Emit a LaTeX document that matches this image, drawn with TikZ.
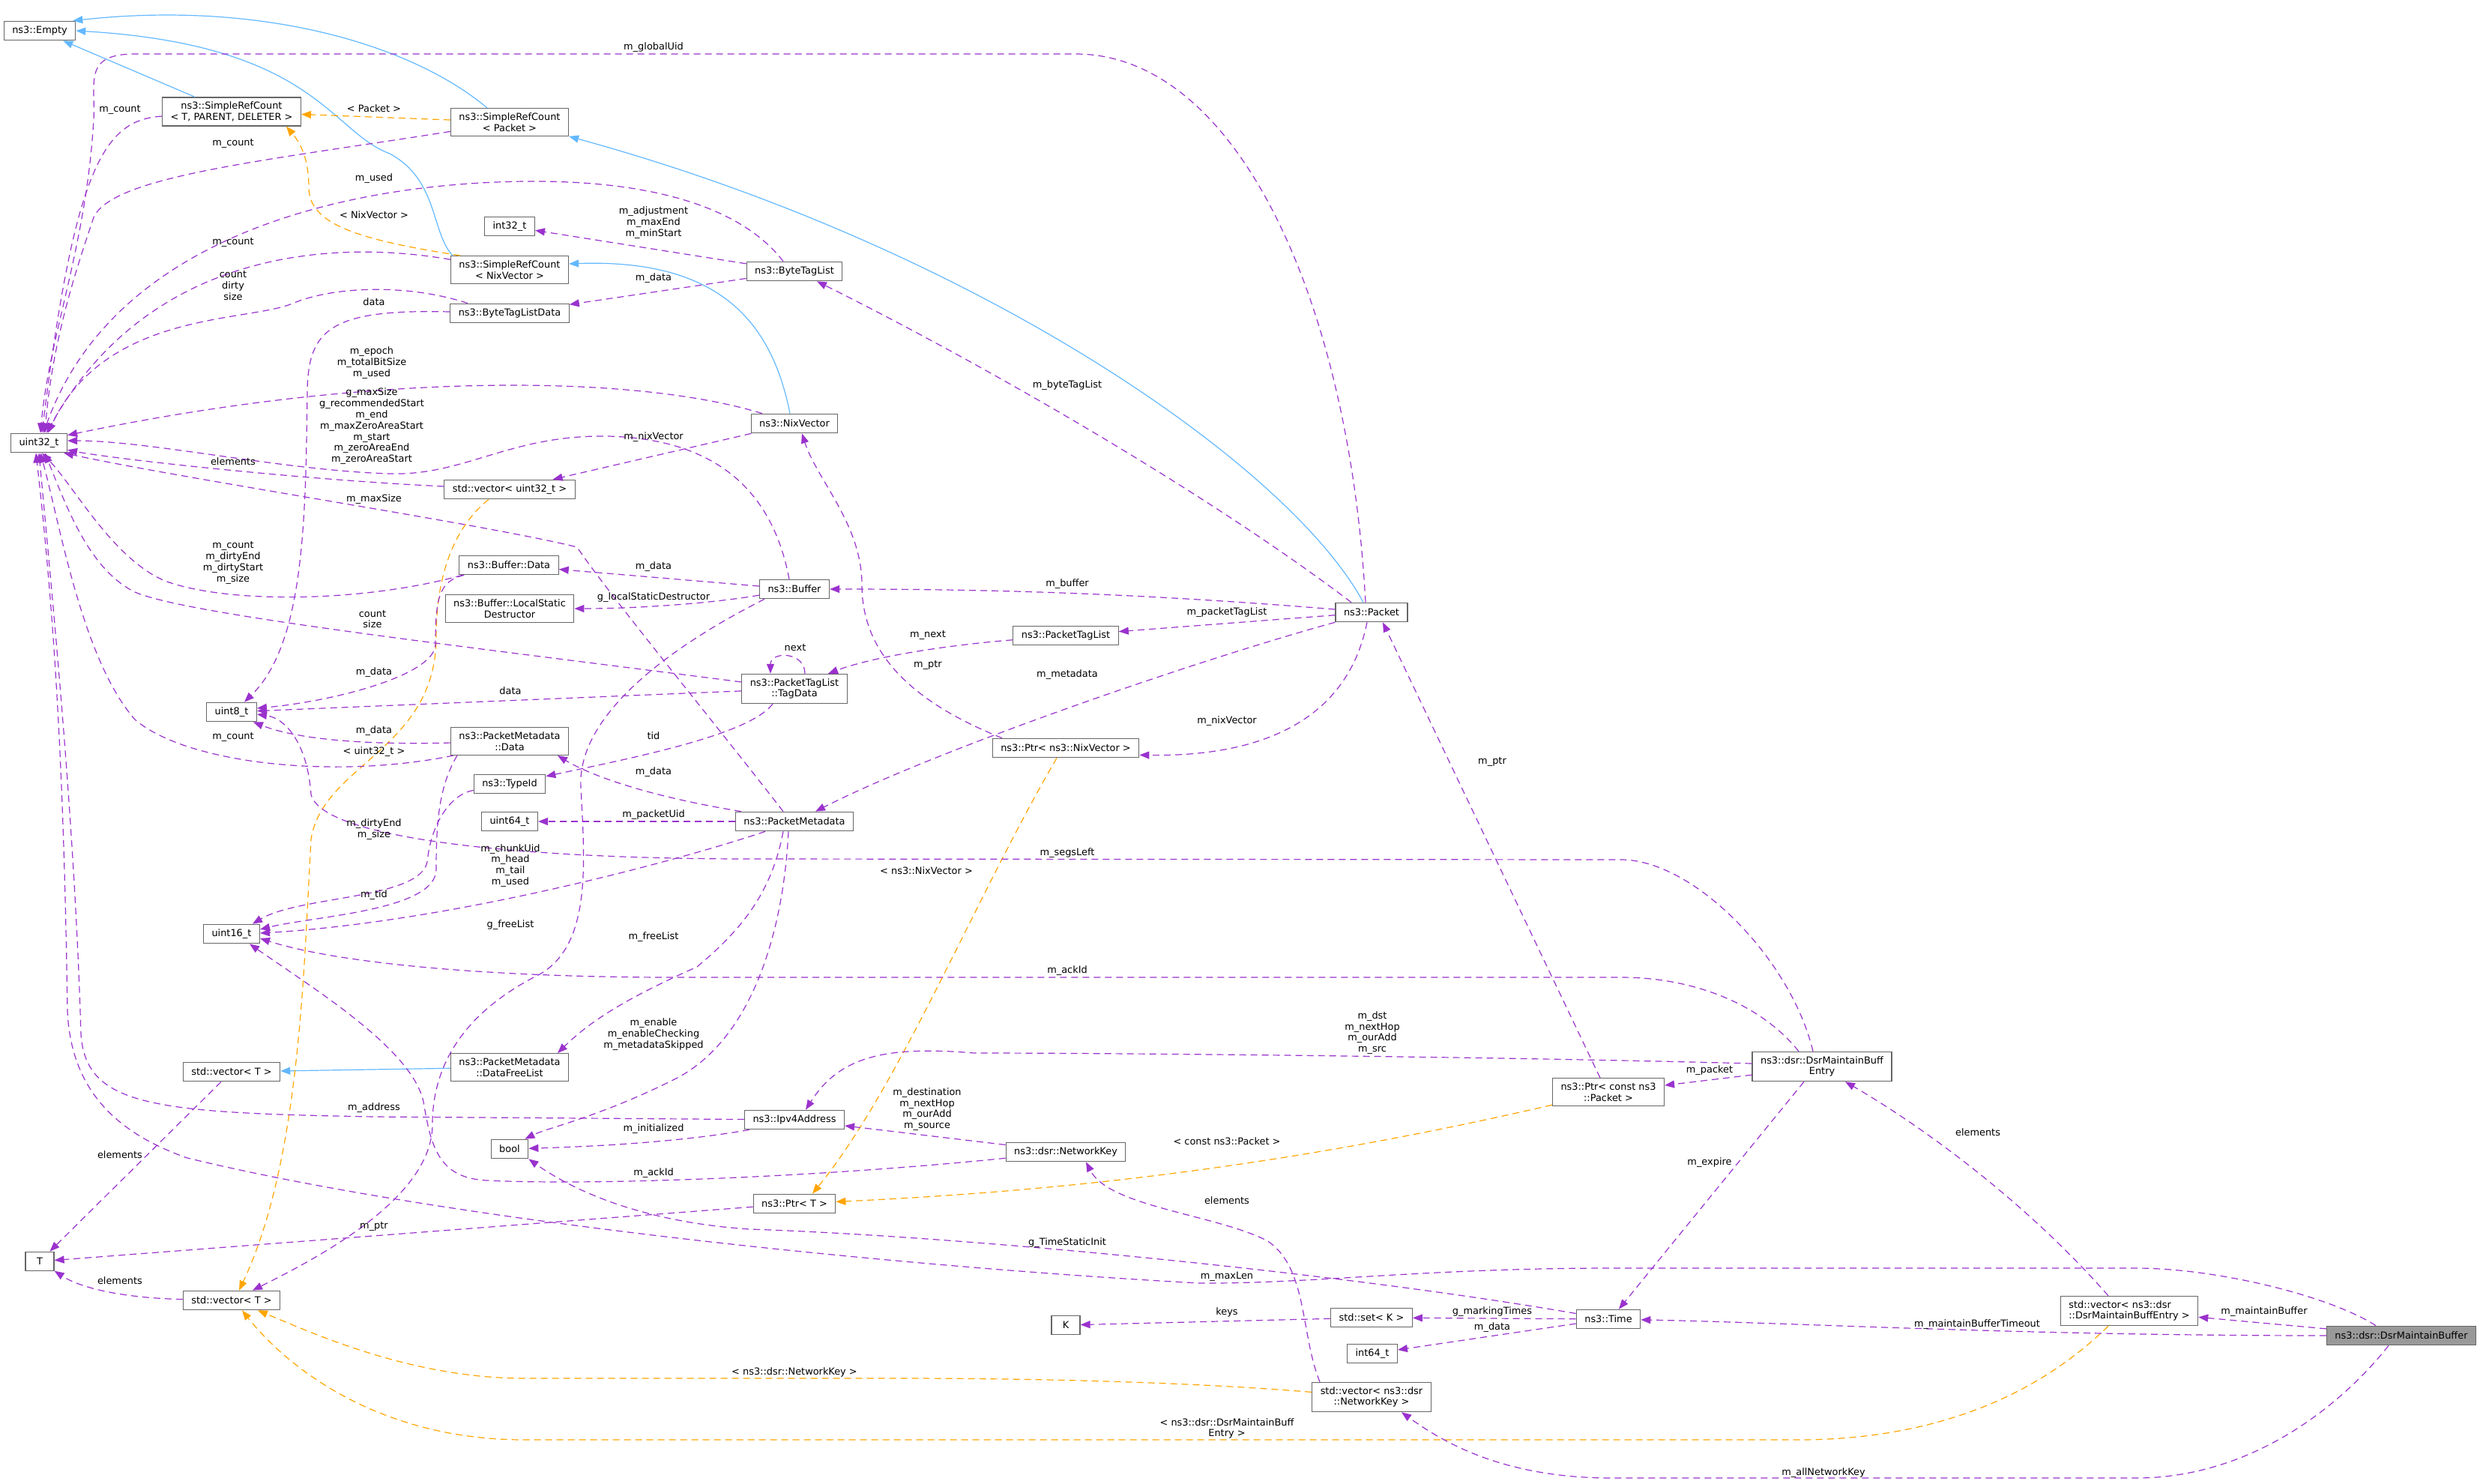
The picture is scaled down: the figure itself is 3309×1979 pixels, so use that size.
\documentclass[tikz,border=0pt]{standalone}
\usepackage{fontspec}
\setmainfont{DejaVu Sans}
\usetikzlibrary{arrows.meta}
\definecolor{usecol}{HTML}{9A32CD}
\definecolor{inhcol}{HTML}{63B8FF}
\definecolor{tplcol}{HTML}{FFA500}
\definecolor{boxcol}{HTML}{666666}
\definecolor{focuscol}{HTML}{999999}
\begin{document}
\begin{tikzpicture}[x=1pt, y=-1pt,
    font=\fontsize{12.9pt}{14.8pt}\selectfont,
    cls/.style={draw=boxcol, fill=white, line width=1.2pt, inner xsep=11pt, inner ysep=6pt,
        minimum height=25.5pt, minimum width=38pt, align=center},
    lbl/.style={inner sep=0pt, align=center},
    usage/.style={draw=usecol, line width=1.2pt, dash pattern=on 9pt off 6pt,
        -{Triangle[length=13pt,width=10pt]}},
    inherit/.style={draw=inhcol, line width=1.2pt, -{Triangle[length=13pt,width=10pt]}},
    tmpl/.style={draw=tplcol, line width=1.2pt, dash pattern=on 9pt off 6pt,
        -{Triangle[length=13pt,width=10pt]}}]
\useasboundingbox (0,0) rectangle (3309,1979);

\node[cls] (empty) at (53,41) {ns3::Empty};
\node[cls] (tpd) at (309,149) {ns3::SimpleRefCount\\< T, PARENT, DELETER >};
\node[cls] (srcpkt) at (680,163) {ns3::SimpleRefCount\\< Packet >};
\node[cls] (int32) at (680,302) {int32\_t};
\node[cls] (srcnix) at (680,360) {ns3::SimpleRefCount\\< NixVector >};
\node[cls] (btldata) at (680,418) {ns3::ByteTagListData};
\node[cls] (btl) at (1060,362) {ns3::ByteTagList};
\node[cls] (nix) at (1060,565) {ns3::NixVector};
\node[cls] (uint32) at (52,591) {uint32\_t};
\node[cls] (vecu32) at (680,653) {std::vector< uint32\_t >};
\node[cls] (bufdata) at (679,754) {ns3::Buffer::Data};
\node[cls] (lsd) at (680,812) {ns3::Buffer::LocalStatic\\Destructor};
\node[cls] (buffer) at (1060,786) {ns3::Buffer};
\node[cls] (packet) at (1830,817) {ns3::Packet};
\node[cls] (ptaglist) at (1422,848) {ns3::PacketTagList};
\node[cls] (tagdata) at (1060,919) {ns3::PacketTagList\\::TagData};
\node[cls] (uint8) at (309,950) {uint8\_t};
\node[cls, minimum width=157pt] (pmdata) at (680,989) {ns3::PacketMetadata\\::Data};
\node[cls] (ptrnix) at (1422,998) {ns3::Ptr< ns3::NixVector >};
\node[cls] (typeid) at (680,1046) {ns3::TypeId};
\node[cls] (uint64) at (680,1096) {uint64\_t};
\node[cls] (pmeta) at (1060,1096) {ns3::PacketMetadata};
\node[cls] (uint16) at (309,1246) {uint16\_t};
\node[cls] (entry) at (2431,1423) {ns3::dsr::DsrMaintainBuff\\Entry};
\node[cls, minimum width=157pt] (freelist) at (680,1424) {ns3::PacketMetadata\\::DataFreeList};
\node[cls] (vecT) at (309,1430) {std::vector< T >};
\node[cls] (ptrpkt) at (2146,1457) {ns3::Ptr< const ns3\\::Packet >};
\node[cls] (ipv4) at (1060,1494) {ns3::Ipv4Address};
\node[cls] (bool) at (680,1533) {bool};
\node[cls] (netkey) at (1422,1537) {ns3::dsr::NetworkKey};
\node[cls] (ptrT) at (1060,1606) {ns3::Ptr< T >};
\node[cls] (T) at (53,1683) {T};
\node[cls] (vecT2) at (309,1735) {std::vector< T >};
\node[cls, align=left] (vecE) at (2841,1749) {std::vector< ns3::dsr\\::DsrMaintainBuffEntry >};
\node[cls] (setK) at (1830,1758) {std::set< K >};
\node[cls] (time) at (2146,1760) {ns3::Time};
\node[cls] (K) at (1422,1768) {K};
\node[cls, fill=focuscol] (dmb) at (3204,1782) {ns3::dsr::DsrMaintainBuffer};
\node[cls] (int64) at (1831,1806) {int64\_t};
\node[cls] (vecnk) at (1830,1864) {std::vector< ns3::dsr\\::NetworkKey >};

\draw[inherit] ([xshift=-49pt]tpd.north) -- (empty);
\draw[inherit] ([xshift=-30pt]srcpkt.north) .. controls (550,60) and (350,0) .. ([xshift=-4pt]empty.north east);
\draw[inherit] ([xshift=3pt]srcnix.north west) .. controls (575,310) and (585,240) .. (520,205)
    .. controls (440,175) and (420,60) .. (empty.east);
\draw[inherit] ([xshift=-11pt]packet.north) .. controls (1720,620) and (1300,330) .. (srcpkt.south east);
\draw[inherit] ([xshift=-6pt]nix.north) .. controls (1030,430) and (960,345) .. ([yshift=8pt]srcnix.east);
\draw[inherit] (freelist) -- (vecT);

\draw[tmpl] (srcpkt) -- (tpd);
\draw[tmpl] ([xshift=-66pt]srcnix.north) .. controls (480,320) and (412,300) .. (412,250)
    .. controls (412,210) and (400,190) .. ([xshift=73pt]tpd.south);
\draw[tmpl] ([xshift=-28pt]vecu32.south) .. controls (610,700) and (582,760) .. (582,850)
    .. controls (582,1000) and (430,1020) .. (415,1120) .. controls (405,1300) and (400,1550) .. ([xshift=10pt]vecT2.north);
\draw[tmpl] ([xshift=-12pt]ptrnix.south) .. controls (1300,1200) and (1200,1450) .. ([xshift=24pt]ptrT.north);
\draw[tmpl] (ptrpkt) .. controls (1700,1560) and (1400,1590) .. (ptrT);
\draw[tmpl] (vecnk) .. controls (1600,1845) and (1400,1839) .. (1200,1839) -- (700,1839)
    .. controls (550,1839) and (420,1780) .. ([xshift=35pt]vecT2.south);
\draw[tmpl] ([xshift=-28pt]vecE.south) .. controls (2700,1880) and (2550,1921) .. (2400,1921) -- (700,1921)
    .. controls (500,1921) and (380,1820) .. ([xshift=14pt]vecT2.south);

\draw[usage] (tpd) .. controls (140,160) and (100,220) .. ([xshift=4pt]uint32.north);
\draw[usage] (srcpkt) .. controls (350,215) and (150,235) .. (125,290) .. controls (105,350) and (70,450) .. ([xshift=8pt]uint32.north);
\draw[usage] ([xshift=-15pt]btl.north) .. controls (1000,290) and (900,240) .. (700,242)
    .. controls (450,245) and (150,320) .. ([xshift=6pt]uint32.north);
\draw[usage] (btl) -- (int32);
\draw[usage] (srcnix) .. controls (450,320) and (200,330) .. ([xshift=10pt]uint32.north);
\draw[usage] ([xshift=-56pt]btldata.north) .. controls (550,380) and (450,380) .. (390,405)
    .. controls (330,430) and (140,415) .. ([xshift=12pt]uint32.north);
\draw[usage] (btl) -- (btldata);
\draw[usage] (btldata) .. controls (440,412) and (412,440) .. (410,520) .. controls (408,700) and (405,860) .. ([xshift=17pt]uint8.north);
\draw[usage] (nix) .. controls (850,500) and (500,495) .. ([yshift=-3pt]uint32.north east);
\draw[usage] ([xshift=-7pt]buffer.north) .. controls (1030,650) and (950,585) .. (810,582)
    .. controls (680,580) and (620,635) .. (520,632) .. controls (380,628) and (200,588) .. ([yshift=3pt]uint32.east);
\draw[usage] (nix) -- (vecu32);
\draw[usage] (vecu32) .. controls (400,640) and (150,612) .. ([yshift=4pt]uint32.south east);
\draw[usage] ([xshift=-15pt]pmeta.north) .. controls (950,960) and (810,790) .. (770,730)
    .. controls (650,700) and (250,640) .. ([xshift=-5pt]uint32.south east);
\draw[usage] ([xshift=-62pt]bufdata.south) .. controls (480,805) and (300,805) .. (220,775)
    .. controls (150,745) and (100,650) .. ([xshift=4pt]uint32.south);
\draw[usage] (buffer) -- (bufdata);
\draw[usage] (buffer) .. controls (950,805) and (850,812) .. (lsd);
\draw[usage] (tagdata) .. controls (600,860) and (250,820) .. (180,790) .. controls (120,760) and (90,680) .. ([xshift=8pt]uint32.south);
\draw[usage] ([xshift=14pt]tagdata.north) .. controls ([xshift=14pt,yshift=30pt]tagdata.north)
    and ([xshift=-32pt,yshift=30pt]tagdata.north) .. ([xshift=-32pt]tagdata.north);
\draw[usage] (ptaglist) .. controls (1250,862) and (1160,878) .. ([xshift=45pt]tagdata.north);
\draw[usage] (bufdata) .. controls (585,775) and (581,800) .. (581,860) .. controls (580,900) and (450,935) .. ([yshift=5pt]uint8.east);
\draw[usage] (tagdata) -- (uint8);
\draw[usage] (pmdata) .. controls (450,995) and (380,980) .. ([xshift=-5pt]uint8.south east);
\draw[usage] ([xshift=-75pt]pmdata.south) .. controls (450,1040) and (250,1020) .. (180,960)
    .. controls (110,880) and (80,700) .. ([xshift=2pt]uint32.south);
\draw[usage] ([xshift=-29pt]tagdata.south) .. controls (1000,980) and (850,1010) .. (typeid);
\draw[usage] ([xshift=-71pt]pmeta.north) .. controls (850,1060) and (780,1030) .. ([xshift=64pt]pmdata.south);
\draw[usage] (pmeta) -- (uint64);
\draw[usage] ([xshift=-12pt]entry.north) .. controls (2390,1280) and (2260,1147) .. (2163,1147) -- (1000,1146)
    .. controls (700,1146) and (430,1120) .. (415,1060) .. controls (410,990) and (380,958) .. ([yshift=-3pt]uint8.east);
\draw[usage] ([xshift=-31pt]entry.north) .. controls (2350,1340) and (2260,1304) .. (2163,1304) -- (900,1304)
    .. controls (650,1304) and (450,1285) .. ([yshift=-6pt]uint16.east);
\draw[usage] ([xshift=-70pt]pmdata.south) .. controls (585,1050) and (582,1100) .. (582,1160)
    .. controls (582,1215) and (420,1222) .. ([yshift=6pt]uint16.east);
\draw[usage] (typeid) .. controls (600,1060) and (575,1100) .. (570,1150) .. controls (560,1200) and (400,1195) .. ([xshift=28pt]uint16.north);
\draw[usage] ([xshift=-39pt]pmeta.south) .. controls (900,1150) and (600,1230) .. ([yshift=1pt]uint16.east);
\draw[usage] ([xshift=-40pt]buffer.south) .. controls (880,870) and (770,960) .. (775,1050)
    .. controls (780,1150) and (790,1260) .. (720,1300) .. controls (620,1350) and (577,1420) .. (577,1500)
    .. controls (577,1600) and (420,1680) .. ([xshift=28pt]vecT2.north);
\draw[usage] ([xshift=-85pt]ptrnix.north) .. controls (1200,930) and (1150,860) .. (1150,780)
    .. controls (1150,700) and (1090,640) .. ([xshift=10pt]nix.south);
\draw[usage] ([xshift=-6pt]packet.south) .. controls (1800,950) and (1700,1010) .. ([yshift=4pt]ptrnix.south east);
\draw[usage] (packet) .. controls (1600,880) and (1250,1000) .. ([xshift=28pt]pmeta.north);
\draw[usage] (packet) .. controls (1500,790) and (1300,786) .. (buffer);
\draw[usage] (packet) -- (ptaglist);
\draw[usage] ([xshift=-27pt]packet.north) .. controls (1600,650) and (1300,480) .. ([xshift=30pt]btl.south);
\draw[usage] ([xshift=-8pt]packet.north) .. controls (1800,400) and (1650,72) .. (1435,72) -- (180,72)
    .. controls (110,72) and (128,110) .. (125,160) .. controls (115,330) and (65,450) .. ([xshift=2pt]uint32.north);
\draw[usage] ([xshift=-34pt]dmb.north) .. controls (3110,1730) and (2960,1692) .. (2850,1692) -- (2150,1692)
    .. controls (1900,1692) and (1750,1713) .. (1600,1712) .. controls (1200,1690) and (600,1630) .. (250,1545)
    .. controls (150,1510) and (95,1450) .. (90,1350) .. controls (85,1000) and (70,800) .. ([xshift=-4pt]uint32.south);
\draw[usage] (ipv4) -- (500,1490) .. controls (200,1485) and (115,1475) .. (108,1380)
    .. controls (100,1100) and (70,800) .. (uint32.south);
\draw[usage] ([xshift=-60pt]ipv4.south) .. controls (900,1525) and (780,1530) .. (bool);
\draw[usage] ([xshift=-8pt]pmeta.south) .. controls (1045,1250) and (1000,1390) .. (900,1440)
    .. controls (800,1490) and (730,1505) .. ([xshift=-5pt]bool.north east);
\draw[usage] ([xshift=-15pt]pmeta.south) .. controls (1030,1190) and (990,1240) .. (930,1290)
    .. controls (840,1330) and (790,1360) .. ([xshift=64pt]freelist.north);
\draw[usage] ([xshift=-14pt]vecT.south) -- (T);
\draw[usage] (ptrT) -- (T);
\draw[usage] (vecT2) .. controls (170,1732) and (110,1720) .. (T);
\draw[usage] (netkey) -- (ipv4);
\draw[usage] (netkey) .. controls (1100,1570) and (800,1582) .. (650,1575) .. controls (585,1572) and (575,1530) .. (565,1470)
    .. controls (550,1400) and (420,1320) .. ([xshift=24pt]uint16.south);
\draw[usage] ([yshift=4pt]entry.west) .. controls (2000,1410) and (1500,1405) .. (1300,1405)
    .. controls (1180,1395) and (1120,1410) .. ([xshift=15pt]ipv4.north);
\draw[usage] (entry) -- (ptrpkt);
\draw[usage] ([xshift=-11pt]ptrpkt.north) -- ([xshift=15pt]packet.south);
\draw[usage] ([xshift=-24pt]entry.south) -- ([xshift=14pt]time.north);
\draw[usage] ([xshift=-28pt]vecE.north) .. controls (2700,1600) and (2560,1500) .. ([xshift=31pt]entry.south);
\draw[usage] (dmb) -- (vecE);
\draw[usage] (dmb) .. controls (2700,1782) and (2400,1765) .. (time);
\draw[usage] ([xshift=-17pt]dmb.south) .. controls (3120,1880) and (3000,1972) .. (2850,1972) -- (2150,1972)
    .. controls (2000,1972) and (1920,1920) .. ([xshift=40pt]vecnk.south);
\draw[usage] (time) .. controls (1800,1700) and (1300,1650) .. (1000,1640) .. controls (850,1630) and (760,1585) .. (bool.south east);
\draw[usage] (time) -- (setK);
\draw[usage] ([yshift=-6pt]time.west) -- (int64);
\draw[usage] (setK) -- (K);
\draw[usage] ([xshift=-69pt]vecnk.north) .. controls (1735,1780) and (1745,1690) .. (1690,1655)
    .. controls (1620,1620) and (1480,1610) .. ([xshift=27pt]netkey.south);

\node[lbl] (lGlobalUid) at (872,63) {m\_globalUid};
\node[lbl] (lCountA) at (160,146) {m\_count};
\node[lbl] (lPacket) at (499,145) {< Packet >};
\node[lbl] (lCountB) at (311,191) {m\_count};
\node[lbl] (lUsed) at (499,238) {m\_used};
\node[lbl] (lNixVector) at (499,287) {< NixVector >};
\node[lbl] (lAdjust) at (872,297) {m\_adjustment\\m\_maxEnd\\m\_minStart};
\node[lbl] (lCountC) at (311,323) {m\_count};
\node[lbl] (lDirty) at (311,381) {count\\dirty\\size};
\node[lbl] (lDataA) at (872,371) {m\_data};
\node[lbl] (lDataB) at (499,403) {data};
\node[lbl] (lEpoch) at (496,484) {m\_epoch\\m\_totalBitSize\\m\_used};
\node[lbl] (lZeroArea) at (496,569) {g\_maxSize\\g\_recommendedStart\\m\_end\\m\_maxZeroAreaStart\\m\_start\\m\_zeroAreaEnd\\m\_zeroAreaStart};
\node[lbl] (lNixVecA) at (872,583) {m\_nixVector};
\node[lbl] (lElemA) at (311,616) {elements};
\node[lbl] (lMaxSize) at (499,666) {m\_maxSize};
\node[lbl] (lDirtyB) at (311,751) {m\_count\\m\_dirtyEnd\\m\_dirtyStart\\m\_size};
\node[lbl] (lDataC) at (872,756) {m\_data};
\node[lbl] (lLocal) at (872,797) {g\_localStaticDestructor};
\node[lbl] (lCountSize) at (497,826) {count\\size};
\node[lbl] (lNextA) at (1238,847) {m\_next};
\node[lbl] (lNextB) at (1061,864) {next};
\node[lbl] (lPtrA) at (1238,887) {m\_ptr};
\node[lbl] (lDataD) at (499,897) {m\_data};
\node[lbl] (lMetadata) at (1424,900) {m\_metadata};
\node[lbl] (lDataE) at (681,922) {data};
\node[lbl] (lDataF) at (499,975) {m\_data};
\node[lbl] (lCountD) at (311,983) {m\_count};
\node[lbl] (lTid) at (872,982) {tid};
\node[lbl] (lUint32) at (499,1003) {< uint32\_t >};
\node[lbl] (lDataG) at (872,1030) {m\_data};
\node[lbl] (lNixVecB) at (1637,962) {m\_nixVector};
\node[lbl] (lPtrB) at (1991,1016) {m\_ptr};
\node[lbl] (lPacketUid) at (872,1087) {m\_packetUid};
\node[lbl] (lDirtyEnd) at (499,1107) {m\_dirtyEnd\\m\_size};
\node[lbl] (lChunk) at (681,1155) {m\_chunkUid\\m\_head\\m\_tail\\m\_used};
\node[lbl] (lSegsLeft) at (1424,1138) {m\_segsLeft};
\node[lbl] (lNsNix) at (1236,1162) {< ns3::NixVector >};
\node[lbl] (lMTid) at (499,1194) {m\_tid};
\node[lbl] (lGFree) at (681,1234) {g\_freeList};
\node[lbl] (lMFree) at (872,1250) {m\_freeList};
\node[lbl] (lAckA) at (1424,1295) {m\_ackId};
\node[lbl] (lDst) at (1831,1378) {m\_dst\\m\_nextHop\\m\_ourAdd\\m\_src};
\node[lbl] (lEnable) at (872,1380) {m\_enable\\m\_enableChecking\\m\_metadataSkipped};
\node[lbl] (lPacketB) at (2281,1428) {m\_packet};
\node[lbl] (lDest) at (1237,1480) {m\_destination\\m\_nextHop\\m\_ourAdd\\m\_source};
\node[lbl] (lAddress) at (499,1478) {m\_address};
\node[lbl] (lInit) at (872,1506) {m\_initialized};
\node[lbl] (lElemB) at (2639,1511) {elements};
\node[lbl] (lConstPkt) at (1637,1523) {< const ns3::Packet >};
\node[lbl] (lElemC) at (160,1541) {elements};
\node[lbl] (lExpire) at (2281,1551) {m\_expire};
\node[lbl] (lAckB) at (872,1565) {m\_ackId};
\node[lbl] (lElemD) at (1637,1602) {elements};
\node[lbl] (lPtrC) at (499,1636) {m\_ptr};
\node[lbl] (lStaticInit) at (1424,1658) {g\_TimeStaticInit};
\node[lbl] (lMaxLen) at (1637,1703) {m\_maxLen};
\node[lbl] (lElemE) at (160,1709) {elements};
\node[lbl] (lMarking) at (1991,1750) {g\_markingTimes};
\node[lbl] (lKeys) at (1637,1751) {keys};
\node[lbl] (lMaintain) at (3021,1750) {m\_maintainBuffer};
\node[lbl] (lTimeout) at (2638,1767) {m\_maintainBufferTimeout};
\node[lbl] (lDataH) at (1991,1771) {m\_data};
\node[lbl] (lNsKey) at (1060,1831) {< ns3::dsr::NetworkKey >};
\node[lbl] (lNsEntry) at (1637,1906) {< ns3::dsr::DsrMaintainBuff\\Entry >};
\node[lbl] (lAllKey) at (2433,1965) {m\_allNetworkKey};
\node[lbl] (lByteTag) at (1424,514) {m\_byteTagList};
\node[lbl] (lBuffer) at (1424,779) {m\_buffer};
\node[lbl] (lPktTag) at (1637,817) {m\_packetTagList};
\end{tikzpicture}
\end{document}
